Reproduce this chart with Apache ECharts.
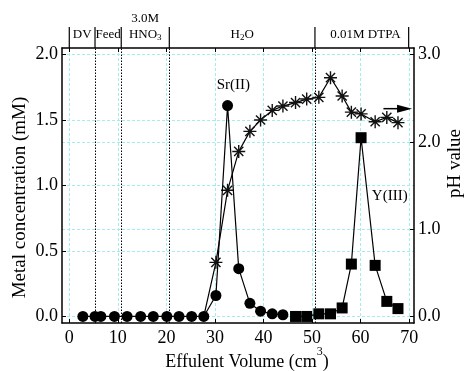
<!DOCTYPE html>
<html><head><meta charset="utf-8">
<script src="https://cdn.jsdelivr.net/npm/echarts@6/dist/echarts.min.js"></script>
<style>html,body{margin:0;padding:0;background:#fff}#c{width:466px;height:371px}</style>
</head><body><div id="c"></div>
<script>
// ---- data ----
const srX = [2.8, 5.3, 6.5, 9.3, 11.9, 14.7, 17.3, 20.1, 22.6, 25.2, 27.7, 30.2, 32.6, 34.9, 37.2, 39.4, 41.8, 44.0];
const srY = [0, 0, 0, 0, 0, 0, 0, 0, 0, 0, 0, 0.16, 1.61, 0.365, 0.10, 0.04, 0.02, 0.013];
const yX = [46.6, 48.9, 51.4, 53.8, 56.2, 58.1, 60.1, 63.0, 65.4, 67.7];
const yY = [0.0, 0.0, 0.02, 0.02, 0.065, 0.40, 1.365, 0.39, 0.115, 0.06];
const phX = [27.7, 30.2, 32.6, 34.9, 37.2, 39.4, 41.8, 44.0, 46.6, 48.9, 51.4, 53.8, 56.2, 58.1, 60.1, 63.0, 65.4, 67.7];
const phY = [0.0, 0.62, 1.445, 1.89, 2.12, 2.25, 2.36, 2.41, 2.45, 2.49, 2.51, 2.735, 2.525, 2.34, 2.32, 2.23, 2.28, 2.22];
const xTicks = [0, 10, 20, 30, 40, 50, 60, 70];
const leftTicks = [0, 0.5, 1.0, 1.5, 2.0];
const rightTicks = [0, 1, 2, 3];
const dividers = [5.3, 10.7, 20.6, 50.6];
const boundaries = [0, 5.3, 10.7, 20.6, 50.6, 69.9];
const regionX = [2.65, 8.0, 15.65, 35.6, 61.0];
const regionLabels = ['DV', 'Feed', '{n|HNO}{s|3}', '{n|H}{s|2}{n|O}', '0.01M DTPA'];
const regionTop = ['', '', '3.0M', '', ''];
const noteX = [33.8, 66.0];
const noteY = [1.77, 0.92];
const noteText = ['Sr(II)', 'Y(III)'];
const arrowX = [64.7, 70.6];
const arrowPH = 2.38;

const FONT = 'Liberation Serif, Times New Roman, serif';
const gridColor = '#a6ecef';
const zip = (a, b) => a.map((v, i) => [v, b[i]]);
const star = 'path://M6 0L6 12M0 6L12 6M1.76 1.76L10.24 10.24M10.24 1.76L1.76 10.24';

const chart = echarts.init(document.getElementById('c'), null, {renderer: 'canvas'});
const splitL = {show: true, lineStyle: {color: gridColor, type: [3, 2], width: 1}};
const axLine = {show: true, onZero: false, lineStyle: {color: '#000', width: 1.5}};
const lbl = {color: '#000', fontFamily: FONT, fontSize: 18};

chart.setOption({
  animation: false,
  grid: {left: 62, right: 52, top: 48, bottom: 48, containLabel: false, outerBoundsMode: 'none'},
  xAxis: [{
    type: 'value', position: 'bottom', min: -1.5, max: 71,
    axisLine: axLine,
    axisTick: {inside: true, length: 4, customValues: xTicks, lineStyle: {color: '#000', width: 1}},
    axisLabel: Object.assign({customValues: xTicks, margin: 6}, lbl),
    splitLine: splitL,
    name: 'Effulent Volume (cm{sup|3})', nameLocation: 'middle', nameGap: 23, nameMoveOverlap: false,
    nameTextStyle: {color: '#000', fontFamily: FONT, fontSize: 18, lineHeight: 32, padding: [0, 0, 0, 18],
      rich: {sup: {fontSize: 12, fontFamily: FONT, color: '#000', verticalAlign: 'top', lineHeight: 12}}}
  }, {
    type: 'value', position: 'top', min: -1.5, max: 71,
    axisLine: axLine,
    axisTick: {inside: true, length: 4, customValues: xTicks, lineStyle: {color: '#000', width: 1}},
    axisLabel: {show: false}, splitLine: {show: false}
  }],
  yAxis: [{
    type: 'value', position: 'left', min: -0.05, max: 2.05,
    axisLine: axLine,
    axisTick: {inside: true, length: 4, customValues: leftTicks, lineStyle: {color: '#000', width: 1}},
    axisLabel: Object.assign({customValues: leftTicks, margin: 4, formatter: v => v.toFixed(1)}, lbl),
    splitLine: splitL,
    name: 'Metal concentration (mM)', nameLocation: 'middle', nameGap: 32, nameMoveOverlap: false,
    nameTextStyle: {color: '#000', fontFamily: FONT, fontSize: 19, padding: [0, 24, 0, 0]}
  }, {
    type: 'value', position: 'right', min: -0.075, max: 3.075,
    axisLine: axLine,
    axisTick: {inside: true, length: 4, customValues: rightTicks, lineStyle: {color: '#000', width: 1}},
    axisLabel: Object.assign({customValues: rightTicks, margin: 4, formatter: v => v.toFixed(1)}, lbl),
    splitLine: splitL,
    name: 'pH value', nameLocation: 'middle', nameGap: 32, nameRotate: 90, nameMoveOverlap: false,
    nameTextStyle: {color: '#000', fontFamily: FONT, fontSize: 19, padding: [0, 0, 0, 44]}
  }],
  series: [
    {
      type: 'line', name: 'Sr', data: zip(srX, srY), symbol: 'circle', symbolSize: 11,
      itemStyle: {color: '#000'}, lineStyle: {color: '#000', width: 1.2}, z: 5,
      markLine: {silent: true, symbol: 'none', label: {show: false},
        lineStyle: {color: '#000', type: [1.5, 1.5], width: 1},
        data: dividers.map(v => ({xAxis: v}))}
    },
    {
      type: 'line', name: 'Y', data: zip(yX, yY), symbol: 'rect', symbolSize: 11,
      itemStyle: {color: '#000'}, lineStyle: {color: '#000', width: 1.2}, z: 5
    },
    {
      type: 'line', name: 'pH', yAxisIndex: 1,
      data: phX.map((x, i) => i === 0 ? {value: [x, phY[i]], symbol: 'none'} : [x, phY[i]]),
      symbol: star, symbolSize: 13,
      itemStyle: {color: 'rgba(0,0,0,0)', borderColor: '#111', borderWidth: 1.4},
      lineStyle: {color: '#000', width: 1.2}, z: 4
    },
    {
      type: 'custom', name: 'boundaries', clip: false, silent: true,
      data: boundaries.map(v => [v, 2.05]),
      renderItem: (params, api) => {
        const p = api.coord([api.value(0), api.value(1)]);
        return {type: 'line', shape: {x1: p[0], y1: p[1], x2: p[0], y2: p[1] - 21},
          style: {stroke: '#000', lineWidth: 1.2}};
      }
    },
    {
      type: 'custom', name: 'regions', clip: false, silent: true,
      data: regionX.map(v => [v, 2.05]),
      renderItem: (params, api) => {
        const p = api.coord([api.value(0), api.value(1)]);
        const i = params.dataIndex;
        const rich = {n: {fontFamily: FONT, fontSize: 13, color: '#000', lineHeight: 14},
                      s: {fontFamily: FONT, fontSize: 9, color: '#000', verticalAlign: 'bottom', lineHeight: 9}};
        const children = [{type: 'text', x: p[0], y: p[1] - 13,
          style: {text: regionLabels[i], font: '13px ' + FONT, fill: '#000', align: 'center', verticalAlign: 'middle', rich: rich}}];
        if (regionTop[i]) children.push({type: 'text', x: p[0], y: p[1] - 29,
          style: {text: regionTop[i], font: '13px ' + FONT, fill: '#000', align: 'center', verticalAlign: 'middle'}});
        return {type: 'group', children};
      }
    },
    {
      type: 'custom', name: 'notes', clip: false, silent: true,
      data: zip(noteX, noteY),
      renderItem: (params, api) => {
        const p = api.coord([api.value(0), api.value(1)]);
        return {type: 'text', x: p[0], y: p[1],
          style: {text: noteText[params.dataIndex], font: '15px ' + FONT, fill: '#000', align: 'center', verticalAlign: 'middle'}};
      }
    },
    {
      type: 'custom', name: 'arrow', yAxisIndex: 1, clip: false, silent: true,
      data: [[arrowX[0], arrowPH, arrowX[1]]],
      renderItem: (params, api) => {
        const a = api.coord([api.value(0), api.value(1)]);
        const b = api.coord([api.value(2), api.value(1)]);
        return {type: 'group', children: [
          {type: 'line', shape: {x1: a[0], y1: a[1], x2: b[0] - 10, y2: b[1]}, style: {stroke: '#000', lineWidth: 1.5}},
          {type: 'polygon', shape: {points: [[b[0] - 15, b[1] - 4], [b[0], b[1]], [b[0] - 15, b[1] + 4]]}, style: {fill: '#000'}}
        ]};
      }
    }
  ]
});
</script></body></html>
